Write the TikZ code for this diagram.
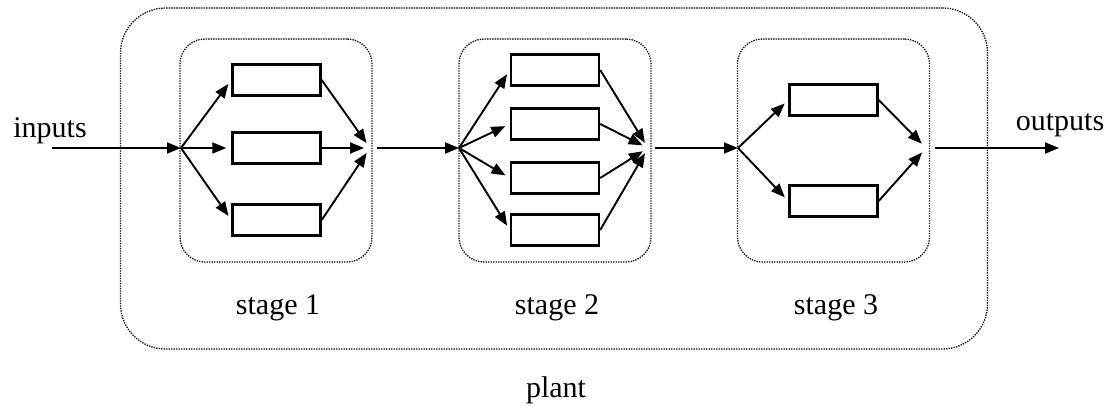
\documentclass[tikz,border=0pt]{standalone}
\usepackage{fontspec}
\setmainfont{Liberation Serif}
\usetikzlibrary{arrows.meta}

\begin{document}
\begin{tikzpicture}[x=1pt, y=-1pt, line width=1.9pt, ->, >={Triangle[length=14pt,width=11pt]},
  every node/.style={font=\fontsize{30}{36}\selectfont},
  unit/.style={draw,rectangle,line width=2.4pt,inner sep=0pt,minimum width=88pt,minimum height=31pt},
  stagebox/.style={draw,rectangle,line width=1.3pt,dash pattern=on 1.3pt off 1.2pt,rounded corners=25pt,minimum width=192pt,minimum height=223pt},
  plantbox/.style={draw,rectangle,line width=1.3pt,dash pattern=on 1.3pt off 1.2pt,rounded corners=45pt,minimum width=867pt,minimum height=341pt},
  fanout/.style={shorten >=5pt},
  fanin/.style={shorten >=6pt}]
  \useasboundingbox (0,0) rectangle (1111,405);

  % plant and stages
  \node [plantbox] (plant) at (554, 178.5) {};
  \node [anchor=base] (plantlabel) at (556, 397) {plant};
  \node [stagebox] (st1) at (276, 150.5) {};
  \node [stagebox] (st2) at (555, 150.5) {};
  \node [stagebox] (st3) at (833.5, 150.5) {};
  \node [anchor=base] (st1label) at (278, 314) {stage 1};
  \node [anchor=base] (st2label) at (557, 314) {stage 2};
  \node [anchor=base] (st3label) at (836, 314) {stage 3};

  %split and merge points
  \coordinate (in) at (52, 148);
  \coordinate (s1) at (181, 148);
  \coordinate (m1) at (370, 148);
  \coordinate (s2) at (459, 148);
  \coordinate (m2) at (648, 148);
  \coordinate (s3) at (738, 148);
  \coordinate (m3) at (926, 148);
  \coordinate (out) at (1059, 148);
  \node [anchor=base] (inputs) at (50, 137) {inputs};
  \node [anchor=base] (outputs) at (1060, 130) {outputs};

  %stage 1
  \node [unit] (u11) at (276.5, 80) {};
  \node [unit] (u12) at (276.5, 148) {};
  \node [unit] (u13) at (276.5, 220) {};
  \path  (in) edge (s1);
  \foreach \u in {u11,u12,u13} {
    \path[fanout]  (s1) edge (\u.west);
    \path[fanin]  (\u.east) edge (m1);
  }

  %stage 2
  \node [unit] (u21) at (555, 70) {};
  \node [unit] (u22) at (555, 124) {};
  \node [unit] (u23) at (555, 178) {};
  \node [unit] (u24) at (555, 230) {};
  \path[shorten <=7pt]  (m1) edge (s2);
  \foreach \u in {u21,u22,u23,u24} {
    \path[fanout]  (s2) edge (\u.west);
    \path[fanin]  (\u.east) edge (m2);
  }

  %stage 3
  \node [unit] (u31) at (833.5, 100) {};
  \node [unit] (u32) at (833.5, 201) {};
  \path[shorten <=7pt]  (m2) edge (s3);
  \foreach \u in {u31,u32} {
    \path[fanout]  (s3) edge (\u.west);
    \path[fanin]  (\u.east) edge (m3);
  }
  \path[shorten <=9pt]  (m3) edge (out);

\end{tikzpicture}
\end{document}
